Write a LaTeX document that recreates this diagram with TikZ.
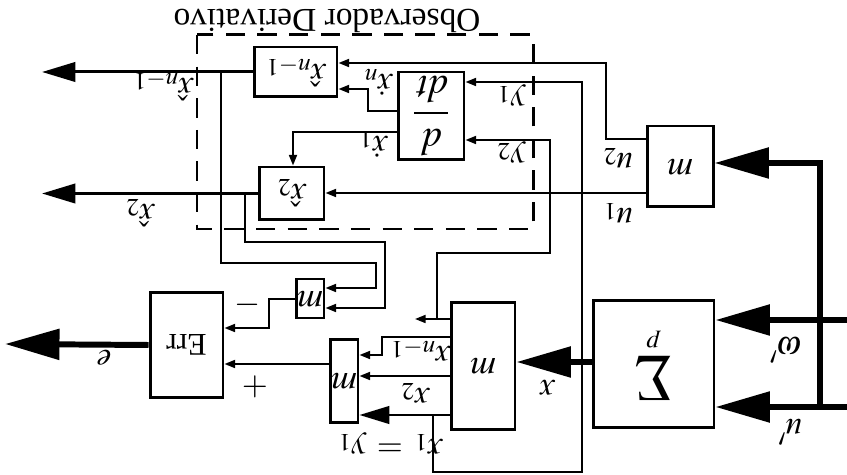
\documentclass[tikz,border=0pt]{standalone}
\usepackage{mathptmx}
\usepackage{fontspec}
\setmainfont{Liberation Serif}
\usepackage{graphicx}
\usepackage{tikz}
\usetikzlibrary{arrows.meta}
\newcommand{\ud}[1]{\rotatebox{180}{#1}}

\begin{document}
\begin{tikzpicture}[x=0.02cm,y=-0.02cm,>={Triangle[length=6pt,width=4.5pt]},
  blk/.style={draw,line width=1.7pt,inner sep=0pt,font=\fontsize{20}{24}\selectfont},
  lbl/.style={rotate=180,inner sep=1pt,font=\fontsize{19}{22}\selectfont},
  ln/.style={line width=1.1pt},
  fat/.style={line width=3.4pt,-{Triangle[length=31pt,width=17pt]}},
  half/.style={line width=1.7pt,-{Triangle[length=19pt,width=11pt]}}]
\useasboundingbox (0,0) rectangle (847,475);
\node[blk,minimum width=1.46cm,minimum height=2.12cm] (err) at (186.5,345) {\ud{\fontsize{18}{20}\selectfont Err}};
\node[blk,minimum width=.56cm,minimum height=.78cm] (msm) at (310,298.5) {\ud{$m$}};
\node[blk,minimum width=.56cm,minimum height=1.68cm] (mcp) at (344,381) {\ud{$m$}};
\node[blk,minimum width=1.28cm,minimum height=2.56cm] (mme) at (483,366) {\ud{$m$}};
\node[blk,minimum width=2.42cm,minimum height=2.56cm] (pl) at (653.5,364) {\ud{$\displaystyle\sum_p$}};
\node[blk,minimum width=1.32cm,minimum height=1.62cm] (mse) at (680,166.5) {\ud{$m$}};
\node[blk,minimum width=1.32cm,minimum height=1.76cm,font=\fontsize{22}{26}\selectfont] (ddt) at (431,116) {\ud{$\displaystyle\frac{d}{dt}$}};
\node[blk,minimum width=1.66cm,minimum height=1.0cm,font=\fontsize{19}{22}\selectfont] (xhn) at (295.5,72) {\ud{$\hat{x}_{n-1}$}};
\node[blk,minimum width=1.3cm,minimum height=1.06cm,font=\fontsize{19}{22}\selectfont] (xh2) at (291.5,193.5) {\ud{$\hat{x}_2$}};
\draw[line width=1.7pt,dash pattern=on 11pt off 7pt] (197,35) rectangle (533,229);
\node[lbl] (tit) at (327,21) {Observador Derivativo};
\coordinate (eo) at (5,344);
\coordinate (xno) at (42,72);
\coordinate (x2o) at (42,193.5);
\coordinate (ja) at (221,72);
\coordinate (jb) at (245,193.5);
\coordinate (y2e) at (415,319);
\coordinate (wi) at (847,320);
\coordinate (ui) at (847,407);
\draw[fat] (err.west) -- (eo);
\draw[half] (xhn.west) -- (xno);
\draw[half] (xh2.west) -- (x2o);
\draw[ln,->] (ja) -- (221,263) -- (376,263) -- (376,288) -- (msm.east |- 0,288);
\draw[ln,->] (jb) -- (245,242) -- (385,242) -- (385,308) -- (msm.east |- 0,308);
\draw[ln,->] (msm.west |- 0,299) -- (269,299) -- (269,328) -- (err.east |- 0,328);
\draw[ln,->] (mcp.west |- 0,364) -- (err.east |- 0,364);
\draw[ln,->] (mme.west |- 0,319) -- (y2e);
\draw[ln,->] (437,319) -- (437,253) -- (550,253) -- (550,140) -- (ddt.east |- 0,140);
\draw[ln,->] (mme.west |- 0,337) -- (382,337) -- (382,355) -- (mcp.east |- 0,355);
\draw[ln,->] (mme.west |- 0,376) -- (mcp.east |- 0,376);
\draw[line width=1.4pt,-{Triangle[length=17pt,width=10pt]}] (mme.west |- 0,415) -- (mcp.east |- 0,415);
\draw[ln,->] (433,415) -- (433,472) -- (582,472) -- (582,82) -- (ddt.east |- 0,82);
\draw[fat] (pl.west |- 0,362) -- (mme.east |- 0,362);
\draw[fat] (wi) -- (pl.east |- 0,320);
\draw[fat] (ui) -- (pl.east |- 0,407);
\draw[fat] (820,409) -- (820,163) -- (mse.east |- 0,163);
\draw[ln,->] (mse.west |- 0,193) -- (xh2.east |- 0,193);
\draw[ln,->] (mse.west |- 0,139) -- (606,139) -- (606,63) -- (xhn.east |- 0,63);
\draw[ln,->] (ddt.west |- 0,111) -- (368,111) -- (368,89) -- (xhn.east |- 0,89);
\draw[ln,->] (ddt.west |- 0,132) -- (293,132) -- (xh2.north -| 293,0);
\node[lbl] (le) at (104,358) {$e$};
\node[lbl] (lm) at (248,305) {$-$};
\node[lbl] (lp) at (255,387) {$+$};
\node[lbl] (lxn) at (163,86) {$\hat{x}_{n-1}$};
\node[lbl] (lx2) at (140,213) {$\hat{x}_2$};
\node[lbl] (ldn) at (378,82) {$\dot{x}_n$};
\node[lbl] (ld1) at (373,145) {$\dot{x}_1$};
\node[lbl] (ly1) at (511,95) {$y_1$};
\node[lbl] (ly2) at (511,152) {$y_2$};
\node[lbl] (lu2) at (618,158) {$u_2$};
\node[lbl] (lu1) at (618,213) {$u_1$};
\node[lbl] (lxm) at (420,350) {$x_{n-1}$};
\node[lbl] (lx2b) at (415,393) {$x_2$};
\node[lbl] (lx1) at (390,443) {$x_1\,=\,y_1$};
\node[lbl] (lx) at (547,388) {$x$};
\node[lbl] (lw) at (786,350) {$\omega'$};
\node[lbl] (lu) at (790,432) {$u'$};
\end{tikzpicture}
\end{document}
